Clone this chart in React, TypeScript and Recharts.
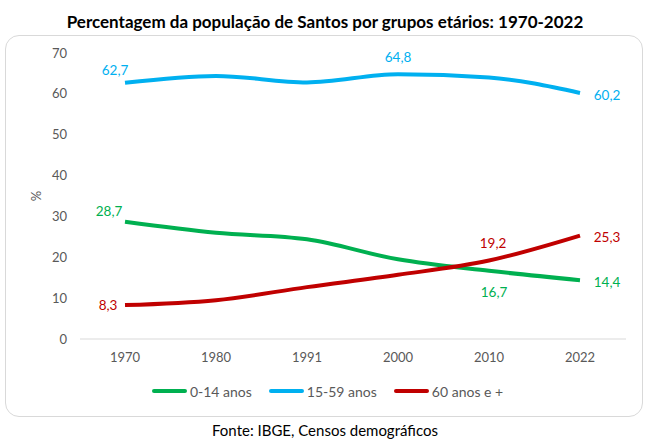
import React from 'react';
import { LineChart, Line, XAxis, YAxis, Legend } from 'recharts';

const years = ['1970', '1980', '1991', '2000', '2010', '2022'];
const young = [28.7, 26.0, 24.4, 19.5, 16.7, 14.4];
const adults = [62.7, 64.4, 62.8, 64.8, 64.0, 60.2];
const elderly = [8.3, 9.5, 12.7, 15.7, 19.2, 25.3];
const yTicks = [0, 10, 20, 30, 40, 50, 60, 70];

const data = years.map((year, i) => ({
  year,
  young: young[i],
  adults: adults[i],
  elderly: elderly[i],
}));

const FONT = 'Lato, "Open Sans", sans-serif';
const GREEN = '#00b050';
const BLUE = '#00b0f0';
const RED = '#c00000';

// label offsets from the point, only for the labelled years
const youngSpots: Record<number, [number, number]> = { 0: [-16, -11], 4: [5, 21], 5: [27, 2] };
const adultSpots: Record<number, [number, number]> = { 0: [-10, -13], 3: [0, -17], 5: [27, 2] };
const elderlySpots: Record<number, [number, number]> = { 0: [-17, 0], 4: [4, -18], 5: [27, 1] };

const fmt = (v: number) => v.toFixed(1).replace('.', ',');

const makeLabel = (values: number[], color: string, spots: Record<number, [number, number]>) =>
  (props: any) => {
    const { x, y, index } = props;
    const spot = spots[index];
    if (!spot) return null;
    return (
      <text
        key={index}
        x={x + spot[0]}
        y={y + spot[1]}
        textAnchor="middle"
        dominantBaseline="central"
        fill={color}
        fontSize={13.5}
        fontFamily={FONT}
      >
        {fmt(values[index])}
      </text>
    );
  };

const legendItems = [
  { name: '0-14 anos', color: GREEN },
  { name: '15-59 anos', color: BLUE },
  { name: '60 anos e +', color: RED },
];

const renderLegend = () => (
  <div
    style={{
      display: 'flex',
      justifyContent: 'center',
      alignItems: 'center',
      gap: 17,
      height: 20,
      paddingLeft: 7,
      fontSize: 14,
      fontFamily: FONT,
      color: '#595959',
    }}
  >
    {legendItems.map((item) => (
      <span key={item.name} style={{ display: 'flex', alignItems: 'center' }}>
        <span
          style={{
            display: 'inline-block',
            width: 35,
            height: 4,
            borderRadius: 2,
            background: item.color,
            marginRight: 3,
          }}
        />
        {item.name}
      </span>
    ))}
  </div>
);

export default function App() {
  return (
    <div style={{ position: 'absolute', left: 0, top: 0, width: 654, height: 444, background: '#fff', fontFamily: FONT }}>
      <div
        style={{
          position: 'absolute',
          top: 13,
          left: 0,
          width: 650,
          textAlign: 'center',
          fontSize: 17,
          lineHeight: '17px',
          fontWeight: 700,
          color: '#000',
        }}
      >
        Percentagem da população de Santos por grupos etários: 1970-2022
      </div>
      <div
        style={{
          position: 'absolute',
          left: 5,
          top: 35,
          width: 638,
          height: 382,
          boxSizing: 'border-box',
          border: '1px solid #d9d9d9',
          borderRadius: 14,
        }}
      />
      <div style={{ position: 'absolute', left: 5, top: 35 }}>
        <LineChart width={638} height={382} data={data} margin={{ top: 18, right: 17, left: 0, bottom: 16 }}>
          <XAxis
            dataKey="year"
            height={42}
            padding={{ left: 45, right: 46 }}
            tickSize={0}
            tickMargin={14}
            tickLine={false}
            axisLine={{ stroke: '#d9d9d9' }}
            tick={{ fill: '#595959', fontSize: 13, fontFamily: FONT }}
          />
          <YAxis
            width={75}
            domain={[0, 70]}
            ticks={yTicks}
            tickSize={0}
            tickMargin={13}
            tickLine={false}
            axisLine={false}
            tick={{ fill: '#595959', fontSize: 13, fontFamily: FONT }}
            label={{ value: '%', angle: -90, position: 'center', dx: -6, fill: '#595959', fontSize: 13, fontFamily: FONT }}
          />
          <Legend
            verticalAlign="bottom"
            content={renderLegend}
            wrapperStyle={{ left: 0, width: 638 }}
          />
          <Line
            type="monotone"
            dataKey="young"
            name="0-14 anos"
            stroke={GREEN}
            strokeWidth={4}
            dot={false}
            isAnimationActive={false}
            label={makeLabel(young, GREEN, youngSpots)}
          />
          <Line
            type="monotone"
            dataKey="adults"
            name="15-59 anos"
            stroke={BLUE}
            strokeWidth={4}
            dot={false}
            isAnimationActive={false}
            label={makeLabel(adults, BLUE, adultSpots)}
          />
          <Line
            type="monotone"
            dataKey="elderly"
            name="60 anos e +"
            stroke={RED}
            strokeWidth={4}
            dot={false}
            isAnimationActive={false}
            label={makeLabel(elderly, RED, elderlySpots)}
          />
        </LineChart>
      </div>
      <div
        style={{
          position: 'absolute',
          top: 423,
          left: 0,
          width: 650,
          textAlign: 'center',
          fontSize: 15,
          lineHeight: '15px',
          color: '#000',
        }}
      >
        Fonte: IBGE, Censos demográficos
      </div>
    </div>
  );
}
